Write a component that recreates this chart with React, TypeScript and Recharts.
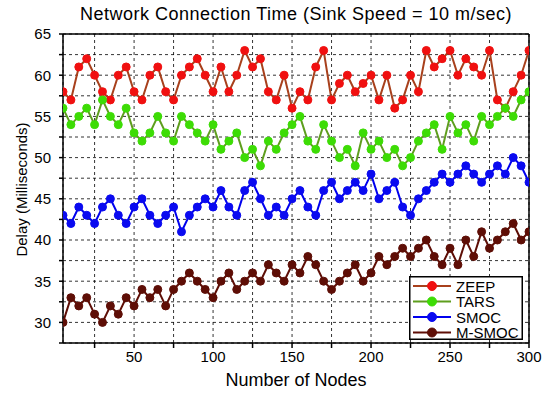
import React from 'react';
import { LineChart, Line, XAxis, YAxis, CartesianGrid, Legend, ReferenceLine } from 'recharts';

const nodes = [5, 10, 15, 20, 25, 30, 35, 40, 45, 50, 55, 60, 65, 70, 75, 80, 85, 90, 95, 100,
  105, 110, 115, 120, 125, 130, 135, 140, 145, 150, 155, 160, 165, 170, 175, 180, 185, 190, 195, 200,
  205, 210, 215, 220, 225, 230, 235, 240, 245, 250, 255, 260, 265, 270, 275, 280, 285, 290, 295, 300];

const zeep = [58, 57, 61, 62, 60, 58, 57, 60, 61, 58, 57, 60, 61, 58, 57, 60, 61, 62, 60, 58,
  61, 58, 60, 63, 61, 62, 58, 57, 60, 56, 58, 57, 61, 63, 57, 59, 60, 58, 59, 60,
  57, 60, 56, 57, 60, 58, 63, 61, 62, 63, 60, 62, 61, 60, 63, 57, 56, 58, 60, 63];

const tars = [56, 54, 55, 56, 54, 57, 55, 54, 56, 53, 52, 53, 55, 53, 52, 55, 54, 53, 52, 54,
  51, 52, 53, 50, 51, 49, 52, 51, 53, 54, 55, 52, 51, 54, 52, 50, 51, 49, 53, 51,
  52, 50, 51, 49, 50, 52, 53, 54, 51, 55, 53, 54, 52, 55, 54, 55, 56, 55, 57, 58];

const smoc = [43, 42, 44, 43, 42, 44, 45, 43, 42, 44, 45, 43, 42, 43, 44, 41, 43, 44, 45, 44,
  46, 44, 43, 46, 47, 45, 43, 44, 43, 45, 46, 44, 43, 46, 47, 45, 46, 47, 46, 48,
  45, 46, 47, 44, 43, 45, 46, 47, 48, 47, 48, 49, 48, 47, 48, 49, 48, 50, 49, 47];

const msmoc = [30, 33, 32, 33, 31, 30, 32, 31, 33, 32, 34, 33, 34, 32, 34, 35, 36, 35, 34, 33,
  35, 36, 34, 35, 36, 35, 37, 36, 35, 37, 36, 38, 37, 35, 34, 35, 36, 37, 35, 36,
  38, 37, 38, 39, 38, 39, 40, 38, 37, 39, 37, 40, 38, 41, 39, 40, 41, 42, 40, 41];

const xTicks = [25, 50, 75, 100, 125, 150, 175, 200, 225, 250, 275, 300];
const yTicks = [27.5, 30, 32.5, 35, 37.5, 40, 42.5, 45, 47.5, 50, 52.5, 55, 57.5, 60, 62.5, 65];

const seriesNames = ['ZEEP', 'TARS', 'SMOC', 'M-SMOC'];
const seriesKeys = ['zeep', 'tars', 'smoc', 'msmoc'];
const lineColors = ['#a8401c', '#5e9e1e', '#0000ee', '#5e0e06'];
const dotColors = ['#f01010', '#3ddc05', '#0a0af0', '#5e0e06'];

const data = nodes.map((n, i) => ({ n, zeep: zeep[i], tars: tars[i], smoc: smoc[i], msmoc: msmoc[i] }));

const FONT = '"Liberation Sans", Arial, sans-serif';

const renderLegend = () => (
  <svg width={114} height={64} style={{ display: 'block' }}>
    <rect x={0.75} y={0.75} width={112.5} height={62.5} fill="#fff" stroke="#000" strokeWidth={1.5} />
    {seriesNames.map((name, i) => {
      const y = 10 + i * 15.5;
      return (
        <g key={name}>
          <line x1={4} x2={42} y1={y} y2={y} stroke={lineColors[i]} strokeWidth={2} />
          <circle cx={23} cy={y} r={4.5} fill={dotColors[i]} stroke={dotColors[i]} />
          <text x={47} y={y + 5.5} fontSize={15} fontFamily={FONT} fill="#000">{name}</text>
        </g>
      );
    })}
  </svg>
);

export default function App() {
  return (
    <div style={{ position: 'absolute', left: 0, top: 0, width: 550, height: 399, background: '#fff', fontFamily: FONT }}>
      <div style={{ position: 'absolute', left: 30, width: 532, top: 4, textAlign: 'center', fontSize: 18, letterSpacing: 0.5, color: '#000', whiteSpace: 'nowrap' }}>
        Network Connection Time (Sink Speed = 10 m/sec)
      </div>
      <div style={{ position: 'absolute', left: 63, width: 466, top: 370, textAlign: 'center', fontSize: 18, color: '#000', whiteSpace: 'nowrap' }}>
        Number of Nodes
      </div>
      <div style={{ position: 'absolute', left: 21, top: 190, width: 0, height: 0 }}>
        <div style={{ position: 'absolute', left: -100, top: -9, width: 200, textAlign: 'center', fontSize: 15, transform: 'rotate(-90deg)', whiteSpace: 'nowrap', color: '#000' }}>
          Delay (Milliseconds)
        </div>
      </div>
      <LineChart width={550} height={399} data={data} margin={{ top: 34, right: 21, bottom: 26, left: 30 }}>
        <CartesianGrid stroke="#000" strokeWidth={0.8} strokeDasharray="3 3" />
        <XAxis dataKey="n" type="number" domain={[5, 300]} ticks={xTicks} allowDataOverflow
          interval={0} height={30} stroke="#000" strokeWidth={1.5} tickSize={5} tickMargin={3}
          tick={{ fill: '#000', fontSize: 15, fontFamily: FONT }}
          tickFormatter={(v: number) => (v % 50 === 0 ? String(v) : '')} />
        <YAxis type="number" domain={[27.5, 65]} ticks={yTicks} allowDataOverflow interval={0}
          width={33} stroke="#000" strokeWidth={1.5} tickSize={4} tickMargin={8}
          tick={{ fill: '#000', fontSize: 15, fontFamily: FONT }}
          tickFormatter={(v: number) => (v % 5 === 0 ? String(v) : '')} />
        <ReferenceLine y={65} stroke="#000" strokeWidth={1.5} />
        <ReferenceLine x={300} stroke="#000" strokeWidth={1.5} />
        {seriesKeys.map((k, i) => (
          <Line key={k} dataKey={k} name={seriesNames[i]} type="linear" stroke={lineColors[i]} strokeWidth={2}
            dot={{ r: 4, fill: dotColors[i], stroke: dotColors[i], strokeWidth: 1 }}
            activeDot={false} isAnimationActive={false} />
        ))}
        <Legend layout="vertical" align="center" verticalAlign="middle" content={renderLegend}
          wrapperStyle={{ position: 'absolute', left: 409, top: 276, width: 114, height: 64 }} />
      </LineChart>
    </div>
  );
}
